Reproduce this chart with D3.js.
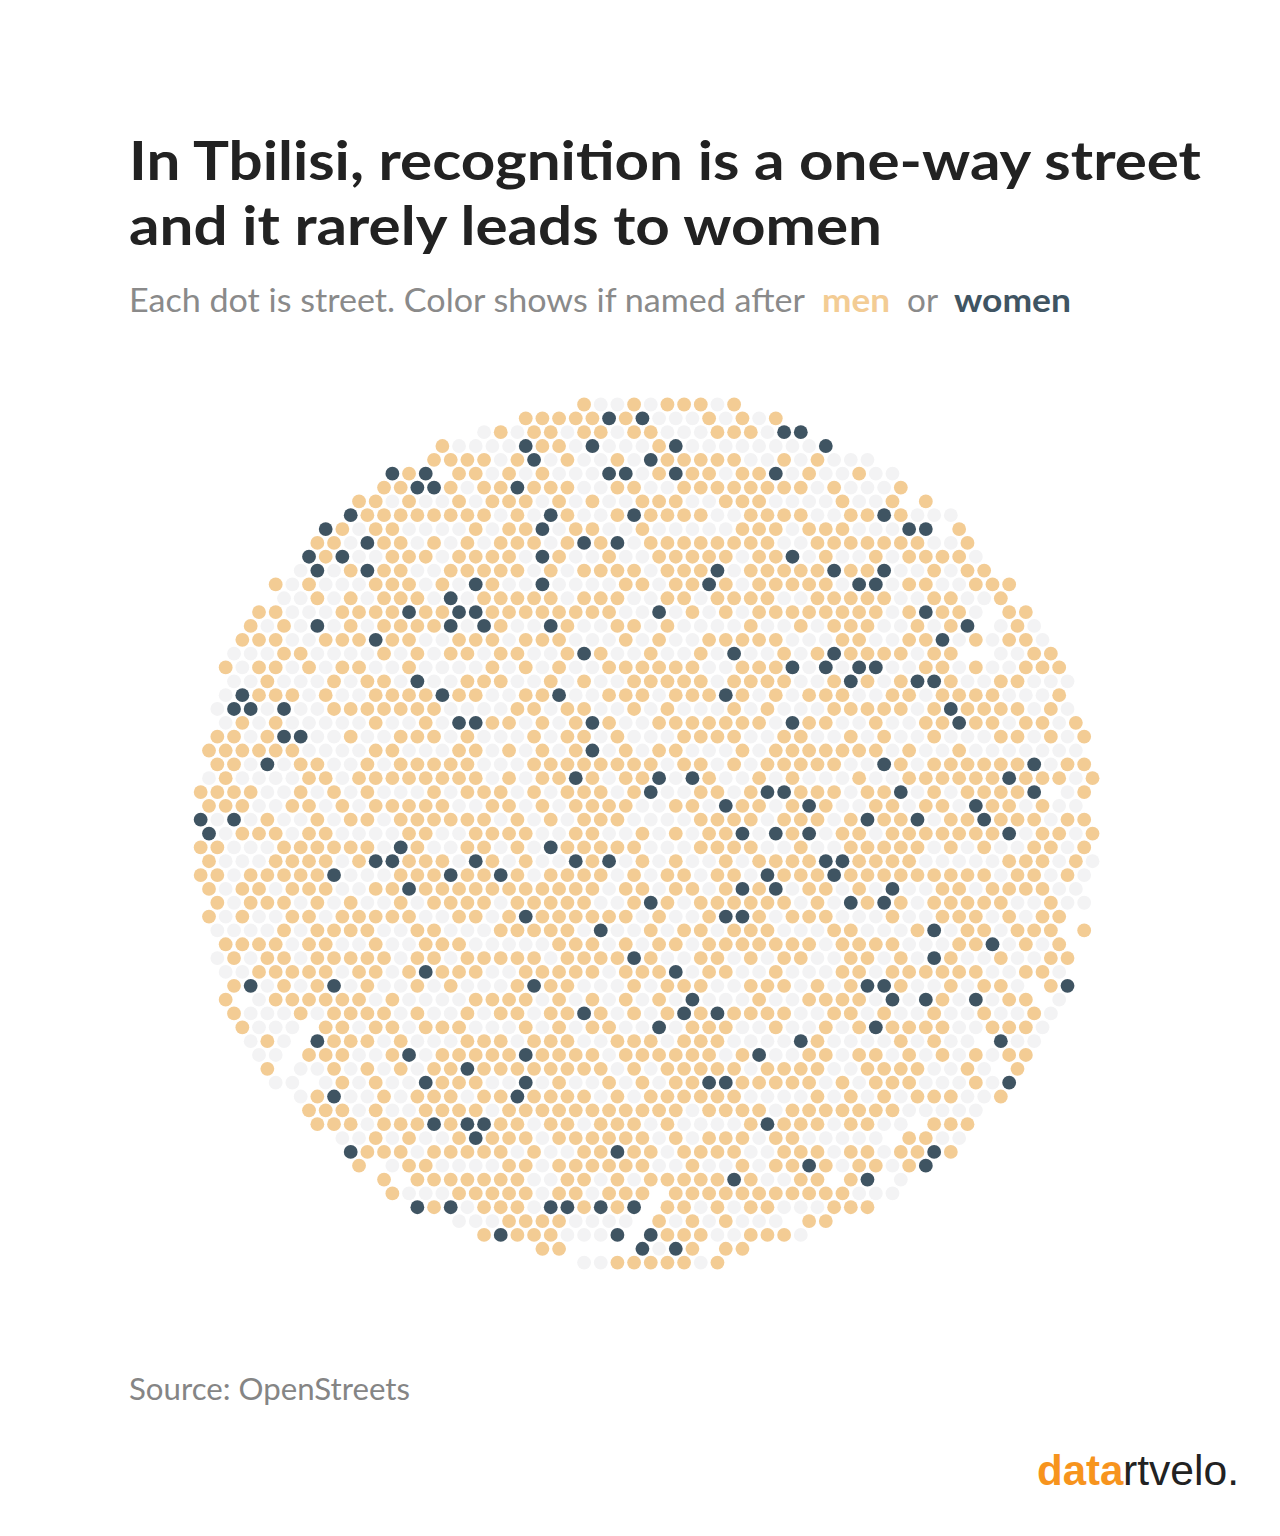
<!DOCTYPE html>
<html>
<head>
<meta charset="utf-8">
<script src="https://cdn.jsdelivr.net/npm/d3@7"></script>
<style>
  body { margin: 0; background: #fff; }
  text { font-family: "Lato", "Noto Sans", sans-serif; }
</style>
</head>
<body>
<svg id="chart" width="1280" height="1536"></svg>
<script>
// one dot per street: m = named after a man, w = a woman, . = neither, blank = no dot
var categories = { m: "men", w: "women", ".": "other" };
var categoryColors = ["#f3cc94", "#3f5462", "#f3f3f4"];

var rowsWest = [
  "                  ",
  "                  ",
  "                 .",
  "               m..",
  "              mmmm",
  "            wmw mm",
  "           mmwwm.m",
  "          mm.m..m.",
  "         wmmmmmmmm",
  "        wm.mm....m",
  "       mm.wmm.m.m.",
  "       wmw..mmm.mm",
  "      .w.mwmm..mmm",
  "     m.m...mmm.m.w",
  "     ..m.m.mmm.w.m",
  "    mm...mmmmwmmww",
  "   m.m.w.m.mmmmw.w",
  "   mmm..mmmwmm..mm",
  "  ...mm....m.m.mm.",
  "  m.mm.m.mm..m....",
  "  ..m...m.mm.w..mm",
  "  .wmmm.m..mmmmwmm",
  " .ww.w..mmmmmmm...",
  "  .m.m.....m..m.ww",
  " mm.mww..m..mmm.m.",
  " mmmmmm....mm...mm",
  " mm.w.mm..m.mmmmm.",
  " .m....mm.mmmmmmmm",
  "mmmm..m.m.m...m.mm",
  " mmm..mm.m.mmmmm..",
  "w.w.m..m.mm.mmmmmm",
  " w.mmm.mm....mm..m",
  "mm...mmmmmm.wm..mm",
  " m...mmmm.mwwmmm.w",
  "mm.mmmmmw...mmmwmm",
  " m.mm.mmm..mmwmmmm",
  " m.mmm.m.m..m.mmmm",
  " m.m..mm.mmmmm..mm",
  " ....m.mmmm..mm...",
  "  mmmm.mm..m..mmm.",
  " .m.mm.mmmmm.mm.mm",
  "  ..mmmmm.mm.mwmmm",
  "  mw.m.mw.m..m.m..",
  "  m .mmmmmm.m....m",
  "  m...m.mmmm.m..m.",
  "   m... mm.mm.mmm.",
  "   .m. wmmm.m...mm",
  "    .. mmm..mw.mmm",
  "    m ..m.m.m.mmwm",
  "     .. .m.m..wmmm",
  "      .mw..m.mmm.m",
  "       mmm.m..mmmm",
  "       mmm.mmmwmww",
  "         ..m.m..mw",
  "         wmmm.mmmm",
  "          m .mm...",
  "           m mmmmm",
  "            m...mm",
  "             wmw.m",
  "                ..",
  "                 m",
  "                  ",
  "                  "
];

var rowsMiddle = [
  "     m..m.mmm.m   ",
  "  mmmmmwmw...m.m.m",
  "m.mm.mm.mm...mmm.w",
  "..wmm.w...mw......",
  ".mw.m..m.wmmmmm..m",
  ".m.m...ww.mwmm.mmw",
  "mwmmm..mm..mmmmmmm",
  "mmm.m.m..mmm..mmm.",
  ".m.wm..mwmmmm..mmm",
  ".mmw.mm..m.....mmm",
  "mmm.mwmw.mmmmmmmm.",
  "mm.wm..m..mmmmm.mm",
  "mm.m.mmmm.mmmw.mmm",
  "m..w....mm.mmwm.mm",
  "mmmm.mmm..mm.mmmm.",
  "mmmmmmmm..w.m.m.mm",
  "m..wm..mm.m....m..",
  "m.mmm...m.m..mmmmm",
  "mm..mwm..m..m.w..m",
  "m.m.m..mmmmmm..mmm",
  "m..m.m..mmmmm.mmmm",
  "..mmw..mmm.mmmwm.m",
  ".mm.mm..m.m...m.m.",
  "mm.m.mwm..mmmmmmm.",
  "..m.mm.m...mmmm..m",
  ".m.m.mw.m.mm...m.m",
  "..mmmmmmmm.mm.m.mm",
  ".m.mmwm.mmw.wm..m.",
  "m.m.mmm.mw..mm.mww",
  "mm.m.mmmm..mm.wmm.",
  ".m.m.mmm....mmmm.m",
  "mmm..mm..m.m.mmw.w",
  ".m.wmmmmm...mmmm..",
  "m.m..wmw.m.m..m.mm",
  "wm.mmmm.m.mm.mm.wm",
  "mmmmmmm.mm.mm.mwmw",
  ".mmmmm..mwm.mmmmmm",
  ".mwmmmmmm.m..mwwm.",
  "mmmmm.w..m.mm.mmm.",
  "....mmm.m.mm.mmmmm",
  "mmm.mmmmwm..mm.m.m",
  "..mmmmm.mmmw.mm..m",
  ".mwmm...m.mmm..mmm",
  "mmm.m.m.m.m.w...m.",
  "mm.mmwm.m.mwmwmmmm",
  "..m.m.mm..w.mmm..m",
  "m.mmm..mmm.mmm....",
  "mmwmmmm.mmmmmm.mw.",
  "mmmmmmm.m.mmmmm.mm",
  "..w.m..m.m.mmwwmmm",
  "mwmmmm.m.mmmmmm...",
  ".mmmmmmmmmmm.mmmm.",
  "mm.mm.mmm.m....mwm",
  "mmm.mmmmmm.m.mmm.m",
  "m.m..mmwmm.mmmm..m",
  ".mm.mmmmmm..m..m.m",
  "mm..mm.m.mmmmmwm..",
  "mmm.mm.mmm mmmmmmm",
  "mm.wwmwmw mm.m.mm.",
  ".mmmm.... m.m.m...",
  "wmmm...w wmmm..mmm",
  "   mm    w.wm mm  ",
  "     ..mmmmm.m    "
];

var rowsEast = [
  "",
  "",
  "w",
  "..w",
  ".m...",
  ".m..m..",
  "m.m...m",
  "...m..m m",
  "m..mmwm...",
  ".mmm...ww m",
  ".mmmmmmm..m",
  "w.m..m.mmmm.",
  "mmwmmw..m.mm",
  "mmm.ww.mm..mmm",
  ".mmmmm..mm..m",
  "mmmmmm.mwmm. mm",
  "m.mmm..m.mw .m.",
  "...mm..mmw.m.mm.",
  ".mwmmmm.mm  ..mm",
  "w.w.ww..mm.m..mmm",
  "..mwm.mwwm..mm...",
  ".mmm..mm.mmmm...m",
  "..mmmmm.mwmmmm.m.",
  "wmm..m..mmwmm.mm.m",
  "m..m.m..m...mm.m.m",
  "mmmmmm.m..m.......",
  "mmm..wm.mmmmmmw.mm",
  "m...m..mmmmmmwmmm.m",
  "mmm.mmw.m.mmmmw .m",
  "mwm..mm.mm.wmm.m..",
  "mm.mwmmw.mmwmmm.mm",
  "mw.mm.mmmmmmmw.mm.m",
  "m..mmmmm.m.m..mm.m",
  "mmwwmmmm.....mmm.m.",
  "mmwmmmmmmmmm.mm.m.",
  ".mm.m.w..mm.mmmm..",
  ".m.wmwm.mmmmm..m..",
  "mmm...m..mmm.m.mm",
  "..mm...mw.mm.mmm m",
  "mm.mmmm...mmw.m.m",
  "m..mm.m.wm..m..mm",
  "...mm.mmmmmm..mm.",
  ".m.mwwm..m.mm. mw",
  ".mmmm.w.wm.w.mm .",
  "..mm.m..m..m..m.",
  "..m.mwmmmm..mmm.",
  "wm....m.m.. w..",
  ".mm.mm.m.m.m.mm",
  "mm..mmmm..m. m",
  "mm.m.mmm...m.w",
  ".m.m.m.mmm..m",
  "mmmmmmm.....",
  "mm.mm.. mmm",
  "m..... mm..",
  "mm.mm.mmwm",
  "mwm.mm.mw",
  "mm mw .",
  "mmmm...",
  "..mmm",
  " mm",
  ".",
  "",
  ""
];

var titleLines = ["In Tbilisi, recognition is a one-way street", "and it rarely leads to women"];
var sourceText = "Source: OpenStreets";

// flatten the three strips of each row into one list of dots
var dots = [];
rowsWest.forEach(function (west, r) {
    var row = west + rowsMiddle[r] + rowsEast[r];
    row.split("").forEach(function (ch, c) {
        if (ch === " ") { return; }
        dots.push({ row: r, col: c - (r % 2 ? 0.5 : 0), kind: categories[ch] });
    });
});

var xRange = d3.scaleLinear().domain([0, 54]).range([200.67, 1100.85]);
var yRange = d3.scaleLinear().domain([0, 62]).range([404.5, 1262.6]);
var color = d3.scaleOrdinal().domain(["men", "women", "other"]).range(categoryColors);

var vis = d3.select("#chart");

vis.append("g").selectAll("circle")
    .data(dots)
    .enter().append("circle")
    .attr("cx", function (d) { return xRange(d.col); })
    .attr("cy", function (d) { return yRange(d.row); })
    .attr("r", 6.9)
    .attr("fill", function (d) { return color(d.kind); });

function addText(str, x, y, size, weight, fill, width) {
    var t = vis.append("text")
        .attr("x", x).attr("y", y)
        .attr("font-size", size).attr("font-weight", weight)
        .attr("fill", fill)
        .text(str);
    if (width) {
        t.attr("textLength", width).attr("lengthAdjust", "spacingAndGlyphs");
    }
    return t;
}

addText(titleLines[0], 129, 180, 53, 700, "#222222", 1072);
addText(titleLines[1], 129, 245, 53, 700, "#222222", 753);

addText("Each dot is street. Color shows if named after", 129, 312, 32, 400, "#8a8a8a", 676);
addText("men", 822, 312, 32, 700, categoryColors[0], 68);
addText("or", 907, 312, 32, 400, "#8a8a8a", 31);
addText("women", 954, 312, 32, 700, categoryColors[1], 117);

addText(sourceText, 129, 1400, 30, 400, "#858585", 281);

addText("data", 1037, 1485, 42, 700, "#f7941d").style("font-family", "Liberation Sans");
addText("rtvelo.", 1123, 1485, 42, 400, "#222222", 116).style("font-family", "Liberation Sans");
</script>
</body>
</html>
